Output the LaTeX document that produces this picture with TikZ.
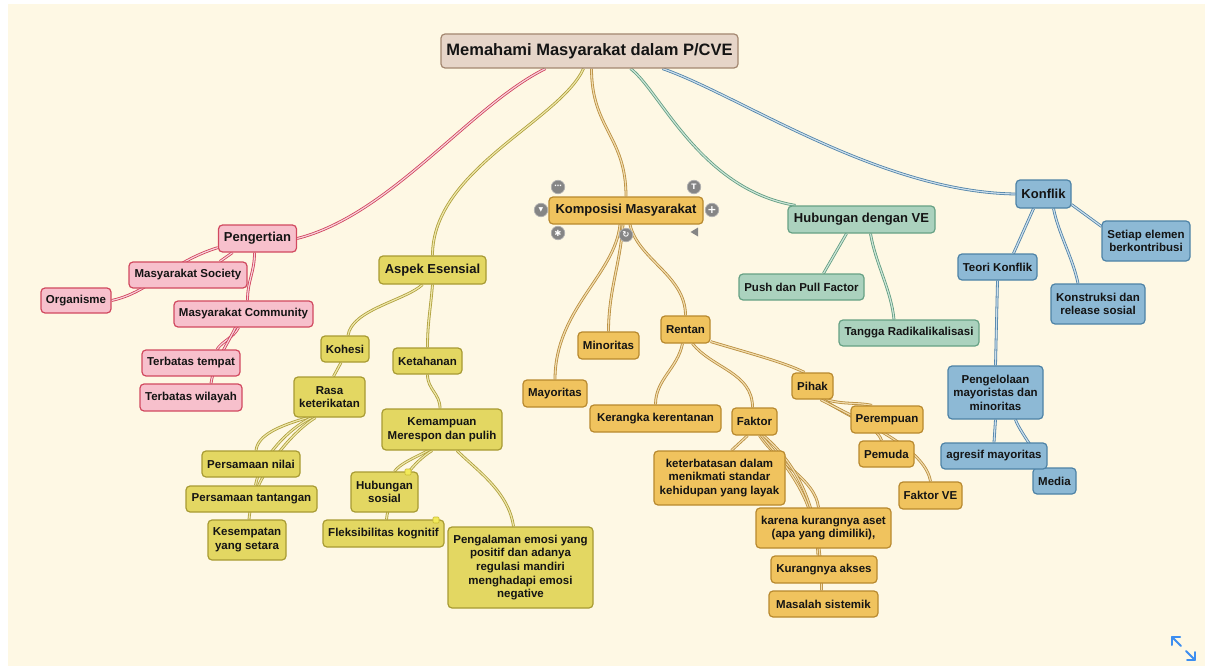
\documentclass[tikz,border=0pt]{standalone}
\usepackage{fontspec}
\setmainfont{Liberation Sans}
\newfontfamily\djv{DejaVu Sans}
\pgfdeclarelayer{bglayer}
\pgfdeclarelayer{edgelayer}
\pgfsetlayers{bglayer,edgelayer,main}
\definecolor{bgc}{HTML}{FEF8E4}
\definecolor{txt}{HTML}{141414}
\definecolor{rtF}{HTML}{E6D5C8}\definecolor{rtD}{HTML}{A38770}
\definecolor{pkF}{HTML}{F7C0CC}\definecolor{pkD}{HTML}{D1495F}\definecolor{pkE}{HTML}{D0405C}\definecolor{pkI}{HTML}{F7D3DA}
\definecolor{yeF}{HTML}{E3D762}\definecolor{yeD}{HTML}{A89B33}\definecolor{yeE}{HTML}{AE9F3A}\definecolor{yeI}{HTML}{EEE6AA}
\definecolor{ogF}{HTML}{F0C35E}\definecolor{ogD}{HTML}{B8892E}\definecolor{ogE}{HTML}{B98E3E}\definecolor{ogI}{HTML}{F1DCAE}
\definecolor{grF}{HTML}{ABD2BE}\definecolor{grD}{HTML}{66A184}\definecolor{grE}{HTML}{5F9C80}\definecolor{grI}{HTML}{CDE5D8}
\definecolor{blF}{HTML}{8DB9D5}\definecolor{blD}{HTML}{4D82A6}\definecolor{blE}{HTML}{4F82A8}\definecolor{blI}{HTML}{CCDFEC}
\definecolor{icg}{HTML}{858585}\definecolor{icb}{HTML}{B0B0B0}
\definecolor{sqF}{HTML}{F2EA5A}\definecolor{sqD}{HTML}{C9BB35}
\definecolor{expc}{HTML}{3D8EF0}
\begin{document}
\begin{tikzpicture}[x=1pt,y=-1pt,
  box/.style={rounded corners=4pt,line width=1.2pt,inner sep=0pt,align=center,text=txt,
    font=\fontsize{11.5}{13.6}\selectfont\bfseries},
  sz/.style 2 args={minimum width=#1pt,minimum height=#2pt},
  mid/.style={font=\fontsize{13}{15}\selectfont\bfseries},
  rt/.style={box,fill=rtF,draw=rtD},
  pk/.style={box,fill=pkF,draw=pkD},
  ye/.style={box,fill=yeF,draw=yeD},
  og/.style={box,fill=ogF,draw=ogD},
  gr/.style={box,fill=grF,draw=grD},
  bl/.style={box,fill=blF,draw=blD},
  edg/.style={line width=0.8pt,double distance=1.2pt},
  epk/.style={edg,draw=pkE,double=pkI},
  eye/.style={edg,draw=yeE,double=yeI},
  eog/.style={edg,draw=ogE,double=ogI},
  egr/.style={edg,draw=grE,double=grI},
  ebl/.style={edg,draw=blE,double=blI},
  icon/.style={circle,fill=icg,draw=icb,line width=0.7pt,minimum size=13.5pt,inner sep=0pt,text=white,
    font=\djv\fontsize{7.5}{7.5}\selectfont\bfseries},
  sqmark/.style={fill=sqF,draw=sqD,line width=0.6pt,minimum size=6pt,inner sep=0pt,rounded corners=1pt}
]
\begin{pgfonlayer}{bglayer}
\fill[white] (0,0) rectangle (1205,666);
\fill[bgc] (8,4) rectangle (1205,666);
\end{pgfonlayer}
\useasboundingbox (0,0) rectangle (1205,666);

% root
\node[rt,sz={297}{34},font=\fontsize{16.5}{19}\selectfont\bfseries] (root) at (589.5,51) {Memahami Masyarakat dalam P/CVE};

% pink
\node[pk,mid,sz={78}{27}] (peng) at (257.5,238.5) {Pengertian};
\node[pk,sz={118}{26}] (msoc) at (188,275) {Masyarakat Society};
\node[pk,sz={70}{25}] (org) at (76,300.5) {Organisme};
\node[pk,sz={139}{26}] (mcom) at (243.5,314) {Masyarakat Community};
\node[pk,sz={98}{26}] (ttem) at (191,363) {Terbatas tempat};
\node[pk,sz={102}{27}] (twil) at (191,397.5) {Terbatas wilayah};

% yellow
\node[ye,mid,sz={107}{28}] (aspek) at (432.5,270) {Aspek Esensial};
\node[ye,sz={48}{26}] (kohesi) at (345,349) {Kohesi};
\node[ye,sz={69}{26}] (ketah) at (427.5,361) {Ketahanan};
\node[ye,sz={71}{40}] (rasa) at (329.5,397) {Rasa\\keterikatan};
\node[ye,sz={120}{41}] (kemamp) at (442,429.5) {Kemampuan\\Merespon dan pulih};
\node[ye,sz={98}{26}] (pnilai) at (251,464) {Persamaan nilai};
\node[ye,sz={131}{26}] (ptant) at (251.5,499) {Persamaan tantangan};
\node[ye,sz={78}{40}] (kesemp) at (247,540) {Kesempatan\\yang setara};
\node[ye,sz={67}{40}] (hsos) at (384.5,492) {Hubungan\\sosial};
\node[ye,sz={121}{27}] (fleks) at (383.5,533.5) {Fleksibilitas kognitif};
\node[ye,sz={145}{81}] (pengal) at (520.5,567.5) {Pengalaman emosi yang\\positif dan adanya\\regulasi mandiri\\menghadapi emosi\\negative};
\node[sqmark] (m1) at (408,472) {};
\node[sqmark] (m2) at (436,520) {};

% orange
\node[og,mid,sz={154}{27}] (kompos) at (626,210.5) {Komposisi Masyarakat};
\node[og,sz={61}{27}] (minor) at (608.5,345.5) {Minoritas};
\node[og,sz={49}{27}] (rentan) at (685.5,329.5) {Rentan};
\node[og,sz={64}{27}] (mayor) at (555,393.5) {Mayoritas};
\node[og,sz={131}{27}] (kerangka) at (655.5,418.5) {Kerangka kerentanan};
\node[og,sz={45}{27}] (faktor) at (754.5,421.5) {Faktor};
\node[og,sz={41}{26}] (pihak) at (812.5,386) {Pihak};
\node[og,sz={72}{27}] (perem) at (887,419.5) {Perempuan};
\node[og,sz={55}{26}] (pemuda) at (886.5,454) {Pemuda};
\node[og,sz={63}{27}] (fve) at (930.5,495.5) {Faktor VE};
\node[og,sz={131}{54}] (keterb) at (719.5,478) {keterbatasan dalam\\menikmati standar\\kehidupan yang layak};
\node[og,sz={135}{40}] (karena) at (823.5,528) {karena kurangnya aset\\(apa yang dimiliki),};
\node[og,sz={106}{27}] (kakses) at (824,569.5) {Kurangnya akses};
\node[og,sz={109}{26}] (masalah) at (823.5,604) {Masalah sistemik};

% icons around Komposisi
\node[icon] (i1) at (558,187) {⋯};
\node[icon] (i2) at (694,187) {T};
\node[icon,font=\djv\fontsize{6}{6}\selectfont] (i3) at (541,210) {▼};
\node[icon,font=\djv\fontsize{11}{11}\selectfont\bfseries] (i4) at (712,210) {+};
\node[icon,font=\djv\fontsize{8.5}{8.5}\selectfont\bfseries] (i5) at (558,233) {✱};
\node[icon,font=\djv\fontsize{8.5}{8.5}\selectfont\bfseries] (i6) at (626,235) {↻};
\fill[icg] (698,227.5) -- (698,236.5) -- (690.5,232) -- cycle;

% green
\node[gr,mid,sz={147}{27}] (hub) at (861.5,219.5) {Hubungan dengan VE};
\node[gr,sz={125}{26}] (push) at (801.5,287) {Push dan Pull Factor};
\node[gr,sz={140}{26}] (tangga) at (909,333) {Tangga Radikalikalisasi};

% blue
\node[bl,mid,sz={55}{28}] (konflik) at (1043.5,194) {Konflik};
\node[bl,sz={88}{40}] (setiap) at (1146,241) {Setiap elemen\\berkontribusi};
\node[bl,sz={79}{26}] (teori) at (997.5,267) {Teori Konflik};
\node[bl,sz={94}{40}] (konstr) at (1098,304) {Konstruksi dan\\release sosial};
\node[bl,sz={95}{53}] (pengel) at (995.5,392.5) {Pengelolaan\\mayoristas dan\\minoritas};
\node[bl,sz={43}{26}] (media) at (1054.5,481) {Media};
\node[bl,sz={106}{26}] (agresif) at (994,456) {agresif mayoritas};

% expand icon
\draw[expc,line width=2pt,line cap=round,line join=round] (1172,645) -- (1172,637) -- (1180,637);
\draw[expc,line width=2pt,line cap=round] (1172,637) -- (1181,646);
\draw[expc,line width=2pt,line cap=round,line join=round] (1195,652) -- (1195,660) -- (1187,660);
\draw[expc,line width=2pt,line cap=round] (1195,660) -- (1186,651);

\begin{pgfonlayer}{edgelayer}
% root edges
\draw[epk] ([xshift=-44pt]root.south) .. controls +(-75,37) and +(93.5,-23.5) .. (peng.east);
\draw[eye] ([xshift=-6pt]root.south) .. controls +(-23.5,52) and +(0,-86) .. (aspek.north);
\draw[eog] ([xshift=2pt]root.south) .. controls +(0,60) and +(0,-60) .. (kompos.north);
\draw[egr] ([xshift=41pt]root.south) .. controls +(29.5,22) and +(-95.5,-16) .. ([xshift=-66pt]hub.north);
\draw[ebl] ([xshift=73pt]root.south) .. controls +(77.5,27) and +(-136,-2) .. (konflik.west);
% pink
\draw[epk] ([xshift=-25pt]peng.south) -- ([xshift=32pt]msoc.north);
\draw[epk] ([yshift=5pt]peng.south west) .. controls +(-48.5,15) and +(39,-8.5) .. (org.east);
\draw[epk] ([xshift=-3pt]peng.south) .. controls +(0,20) and +(0,-20) .. ([xshift=4pt]mcom.north);
\draw[epk] ([xshift=-5pt]mcom.south) .. controls +(-5,10) and +(5,-8) .. ([xshift=26pt]ttem.north);
\draw[epk] ([xshift=-8pt]mcom.south) .. controls +(-10,20) and +(3,-20) .. ([xshift=20pt]twil.north);
% yellow
\draw[eye] ([xshift=-10pt]aspek.south) .. controls +(-17.5,16) and +(4,-26) .. ([xshift=3pt]kohesi.north);
\draw[eye] (aspek.south) .. controls +(-2,25) and +(0,-25) .. (ketah.north);
\draw[eye] ([xshift=-4pt]kohesi.south) -- ([xshift=4pt]rasa.north);
\draw[eye] ([xshift=-22pt]rasa.south) .. controls +(-27,8) and +(2,-16) .. ([xshift=5pt]pnilai.north);
\draw[eye] ([xshift=-18pt]rasa.south) .. controls +(-25,12) and +(4,-25) .. ([xshift=4pt]ptant.north);
\draw[eye] ([xshift=-14pt]rasa.south) .. controls +(-25,15) and +(3,-40) .. ([xshift=2pt]kesemp.north);
\draw[eye] (ketah.south) .. controls +(0,15) and +(0,-15) .. ([xshift=-2pt]kemamp.north);
\draw[eye] ([xshift=-14pt]kemamp.south) .. controls +(-15,8) and +(6,-8) .. ([xshift=10pt]hsos.north);
\draw[eye] ([xshift=-10pt]kemamp.south) .. controls +(-20,12) and +(2,-25) .. ([xshift=3pt]fleks.north);
\draw[eye] ([xshift=15pt]kemamp.south) .. controls +(20,20) and +(-5,-35) .. ([xshift=-7pt]pengal.north);
% orange
\draw[eog] ([xshift=-6pt]kompos.south) .. controls +(-5,50) and +(0,-70) .. (mayor.north);
\draw[eog] ([xshift=-3pt]kompos.south) .. controls +(-3,40) and +(0,-40) .. (minor.north);
\draw[eog] ([xshift=4pt]kompos.south) .. controls +(8,35) and +(0,-40) .. (rentan.north);
\draw[eog] ([xshift=-3pt]rentan.south) .. controls +(-5,25) and +(0,-25) .. (kerangka.north);
\draw[eog] ([xshift=7pt]rentan.south) .. controls +(20,25) and +(0,-35) .. ([xshift=-2pt]faktor.north);
\draw[eog] ([yshift=2pt]rentan.south east) .. controls +(40,12) and +(-20,-10) .. ([xshift=-8pt]pihak.north);
\draw[eog] ([xshift=-7pt]pihak.south east) .. controls +(15,5) and +(-12,-3) .. ([xshift=-15pt]perem.north);
\draw[eog] ([xshift=-10pt]pihak.south east) .. controls +(25,18) and +(-5,-15) .. ([xshift=-5pt]pemuda.north);
\draw[eog] ([xshift=-13pt]pihak.south east) .. controls +(50,26) and +(-5.5,-32) .. (fve.north);
\draw[eog] ([xshift=-7pt]faktor.south) -- ([xshift=12pt]keterb.north);
\draw[eog] ([xshift=5pt]faktor.south) .. controls +(20.5,30) and +(-3.5,-28) .. ([xshift=-5pt]karena.north);
\draw[eog] ([xshift=7pt]faktor.south) .. controls +(28.5,35) and +(-3,-56) .. ([xshift=-6pt]kakses.north);
\draw[eog] ([xshift=9pt]faktor.south) .. controls +(35,30) and +(0,-80) .. ([xshift=-2pt]masalah.north);
% green
\draw[egr] ([xshift=-15pt]hub.south) -- ([xshift=22pt]push.north);
\draw[egr] ([xshift=9pt]hub.south) .. controls +(5,30) and +(-3,-30) .. ([xshift=-15pt]tangga.north);
% blue
\draw[ebl] ([yshift=4pt]konflik.south east) -- ([yshift=-6pt]setiap.north west);
\draw[ebl] ([xshift=-10pt]konflik.south) -- ([xshift=16pt]teori.north);
\draw[ebl] ([xshift=10pt]konflik.south) .. controls +(5,25) and +(-5,-25) .. ([xshift=-20pt]konstr.north);
\draw[ebl] (teori.south) -- (pengel.north);
\draw[ebl] (pengel.south) -- (agresif.north);
\draw[ebl] ([xshift=20pt]pengel.south) .. controls +(3,10) and +(-5,-10) .. ([xshift=-10pt]media.north);
\end{pgfonlayer}
\end{tikzpicture}
\end{document}
